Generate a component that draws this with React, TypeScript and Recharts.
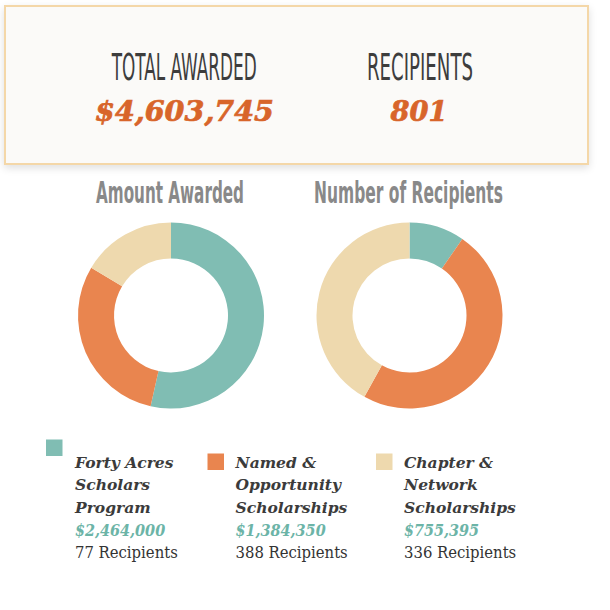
import { PieChart, Pie, Cell } from "recharts";

const programs = [
  "Forty Acres Scholars Program",
  "Named & Opportunity Scholarships",
  "Chapter & Network Scholarships",
];
const programLines = [
  ["Forty Acres", "Scholars", "Program"],
  ["Named &", "Opportunity", "Scholarships"],
  ["Chapter &", "Network", "Scholarships"],
];
const amounts = [2464000, 1384350, 755395];
const recipients = [77, 388, 336];
const colors = ["#80bdb3", "#e9854f", "#eed9ae"];

const amountData = programs.map((name, i) => ({ name, value: amounts[i] }));
const recipientData = programs.map((name, i) => ({ name, value: recipients[i] }));

const totalAwarded = amounts.reduce((a, b) => a + b, 0);
const totalRecipients = recipients.reduce((a, b) => a + b, 0);

const narrow = "'Liberation Sans Narrow', 'DejaVu Sans Condensed', sans-serif";
const slab = "'DejaVu Serif', serif";
const slabCond = "'DejaVu Serif Condensed', 'DejaVu Serif', serif";

// legend columns: square x, square y, text x
const legendPos = [
  { sx: 46, sy: 439.5, tx: 75 },
  { sx: 207.5, sy: 453.5, tx: 235.5 },
  { sx: 376, sy: 453.5, tx: 404 },
];

const ctx = document.createElement("canvas").getContext("2d");

// text squeezed horizontally to a given width, centred on x
function FitText(props: {
  x: number;
  y: number;
  width: number;
  size: number;
  family: string;
  weight?: string;
  italic?: boolean;
  fill: string;
  stroke?: number;
  children: string;
}) {
  const { x, y, width, size, family, weight = "normal", italic, fill, stroke, children } = props;
  let s = 1;
  if (ctx) {
    ctx.font = `${italic ? "italic " : ""}${weight} ${size}px ${family}`;
    const w = ctx.measureText(children).width;
    if (w > 0) s = width / w;
  }
  return (
    <text
      transform={`translate(${x},${y}) scale(${s},1)`}
      textAnchor="middle"
      fontFamily={family}
      fontSize={size}
      fontWeight={weight}
      fontStyle={italic ? "italic" : "normal"}
      fill={fill}
      stroke={stroke ? fill : undefined}
      strokeWidth={stroke}
    >
      {children}
    </text>
  );
}

function App() {
  return (
    <div style={{ position: "absolute", left: 0, top: 0, width: 610, height: 610, background: "#fff" }}>
      <div
        style={{
          position: "absolute",
          left: 4,
          top: 5,
          width: 581,
          height: 156,
          background: "#fbfaf8",
          border: "2px solid #f4d7a8",
          boxShadow: "0 3px 8px rgba(0,0,0,0.13)",
        }}
      />
      <PieChart
        width={610}
        height={610}
        margin={{ top: 0, right: 0, bottom: 0, left: 0 }}
        style={{ position: "absolute", left: 0, top: 0 }}
      >
        <Pie
          data={amountData}
          dataKey="value"
          cx={171}
          cy={315.5}
          innerRadius={57}
          outerRadius={93}
          startAngle={90}
          endAngle={-270}
          stroke="none"
          isAnimationActive={false}
        >
          {amountData.map((d, i) => (
            <Cell key={d.name} fill={colors[i]} />
          ))}
        </Pie>
        <Pie
          data={recipientData}
          dataKey="value"
          cx={409.5}
          cy={315.5}
          innerRadius={57}
          outerRadius={93}
          startAngle={90}
          endAngle={-270}
          stroke="none"
          isAnimationActive={false}
        >
          {recipientData.map((d, i) => (
            <Cell key={d.name} fill={colors[i]} />
          ))}
        </Pie>
      </PieChart>
      <svg width={610} height={610} style={{ position: "absolute", left: 0, top: 0, pointerEvents: "none" }}>
        <FitText x={184.2} y={80} width={145} size={36.6} family={narrow} fill="#3d3d3d">
          TOTAL AWARDED
        </FitText>
        <FitText x={420} y={80} width={106} size={36.6} family={narrow} fill="#3d3d3d">
          RECIPIENTS
        </FitText>
        <FitText x={184.5} y={121} width={179} size={28} family={slab} weight="bold" italic fill="#d8652a" stroke={0.7}>
          {"$" + totalAwarded.toLocaleString("en-US")}
        </FitText>
        <FitText x={419} y={121} width={57} size={28} family={slab} weight="bold" italic fill="#d8652a" stroke={0.7}>
          {String(totalRecipients)}
        </FitText>

        <FitText x={170} y={203.3} width={148} size={30} family={narrow} weight="bold" fill="#898989">
          Amount Awarded
        </FitText>
        <FitText x={408.5} y={203.3} width={189} size={30} family={narrow} weight="bold" fill="#898989">
          Number of Recipients
        </FitText>

        {programs.map((name, i) => {
          const p = legendPos[i];
          return (
            <g key={name}>
              <rect x={p.sx} y={p.sy} width={16.5} height={16.5} fill={colors[i]} />
              {programLines[i].map((line, j) => (
                <text key={line} x={p.tx} y={467.5 + j * 22.7} fontFamily={slab} fontSize={15.5} fontWeight="bold" fontStyle="italic" fill="#3b3b3b">
                  {line}
                </text>
              ))}
              <text x={p.tx} y={467.5 + 3 * 22.7} fontFamily={slabCond} fontSize={16} fontWeight="bold" fontStyle="italic" fill="#6cb4a7">
                {"$" + amounts[i].toLocaleString("en-US")}
              </text>
              <text x={p.tx} y={467.5 + 4 * 22.7} fontFamily={slabCond} fontSize={16.5} fill="#333">
                {recipients[i] + " Recipients"}
              </text>
            </g>
          );
        })}
      </svg>
    </div>
  );
}

export default App;
